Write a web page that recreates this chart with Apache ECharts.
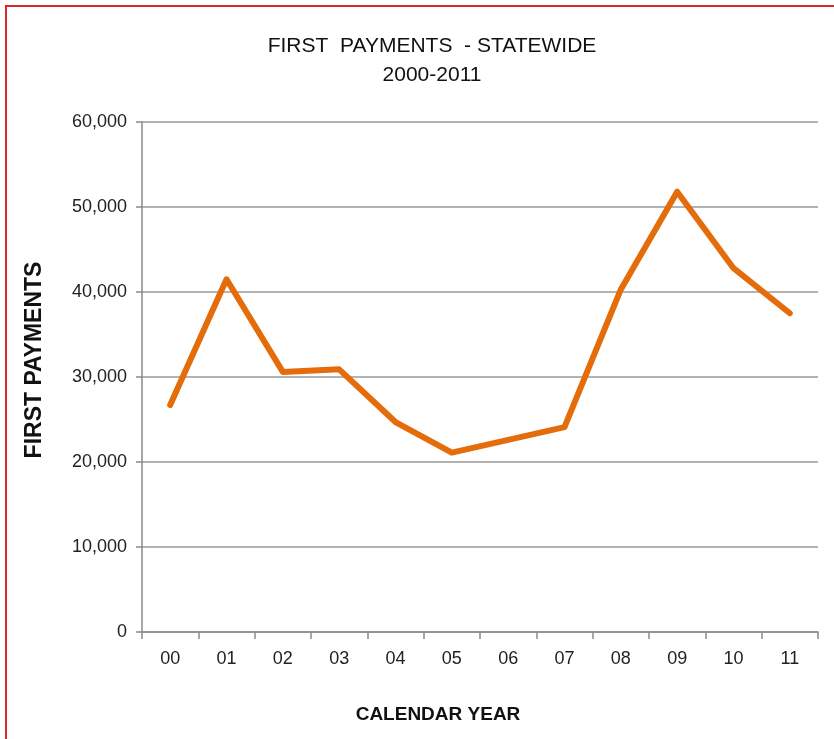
<!DOCTYPE html>
<html>
<head>
<meta charset="utf-8">
<script src="https://cdn.jsdelivr.net/npm/echarts@6/dist/echarts.min.js"></script>
<style>
html,body{margin:0;padding:0;background:#fff;}
#frame{position:absolute;left:5px;top:5px;width:829px;height:734px;border-left:2px solid #d42a2a;border-top:2px solid #d42a2a;box-sizing:border-box;}
#chart{position:absolute;left:0;top:0;width:834px;height:739px;}
</style>
</head>
<body>
<div id="frame"></div>
<div id="chart"></div>
<script>
const categories = ['00','01','02','03','04','05','06','07','08','09','10','11'];
const firstPayments = [26700, 41500, 30600, 30900, 24700, 21100, 22600, 24100, 40300, 51800, 42800, 37500];
const yTicks = [0, 10000, 20000, 30000, 40000, 50000, 60000];

const font = "'Liberation Sans', Arial, sans-serif";
const chart = echarts.init(document.getElementById('chart'));
chart.setOption({
  backgroundColor: 'transparent',
  animation: false,
  title: {
    text: 'FIRST  PAYMENTS  - STATEWIDE\n2000-2011',
    left: 427, top: 27, textAlign: 'center',
    textStyle: {fontFamily: font, fontSize: 21, fontWeight: 'normal', color: '#111', lineHeight: 29}
  },
  grid: {left: 142, right: 16, top: 122, bottom: 107},
  xAxis: {
    type: 'category',
    data: categories,
    boundaryGap: true,
    name: 'CALENDAR YEAR',
    nameLocation: 'middle',
    nameGap: 73,
    nameTextStyle: {fontFamily: font, fontSize: 19, fontWeight: 'bold', color: '#111', padding: [0, 84, 0, 0]},
    axisLine: {lineStyle: {color: '#8a8a8a', width: 1.5}},
    axisTick: {show: true, length: 7, alignWithLabel: false, lineStyle: {color: '#8a8a8a', width: 1.5}},
    axisLabel: {fontFamily: font, fontSize: 18, color: '#222', margin: 18}
  },
  yAxis: {
    type: 'value',
    min: yTicks[0], max: yTicks[yTicks.length - 1], interval: 10000,
    name: 'FIRST PAYMENTS',
    nameLocation: 'middle',
    nameGap: 96,
    nameTextStyle: {fontFamily: font, fontSize: 23, fontWeight: 'bold', color: '#111', padding: [0, 0, 0, 34]},
    axisLine: {show: true, lineStyle: {color: '#8a8a8a', width: 1.5}},
    axisTick: {show: true, length: 6, lineStyle: {color: '#8a8a8a', width: 1.5}},
    axisLabel: {
      fontFamily: font, fontSize: 18, color: '#222', margin: 15,
      formatter: v => v.toLocaleString('en-US')
    },
    splitLine: {show: true, lineStyle: {color: '#9a9a9a', width: 1.5}}
  },
  series: [{
    type: 'line',
    data: firstPayments,
    symbol: 'none',
    lineStyle: {color: '#e46c0a', width: 6, join: 'round', cap: 'round'},
    itemStyle: {color: '#e46c0a'}
  }]
});
</script>
</body>
</html>
